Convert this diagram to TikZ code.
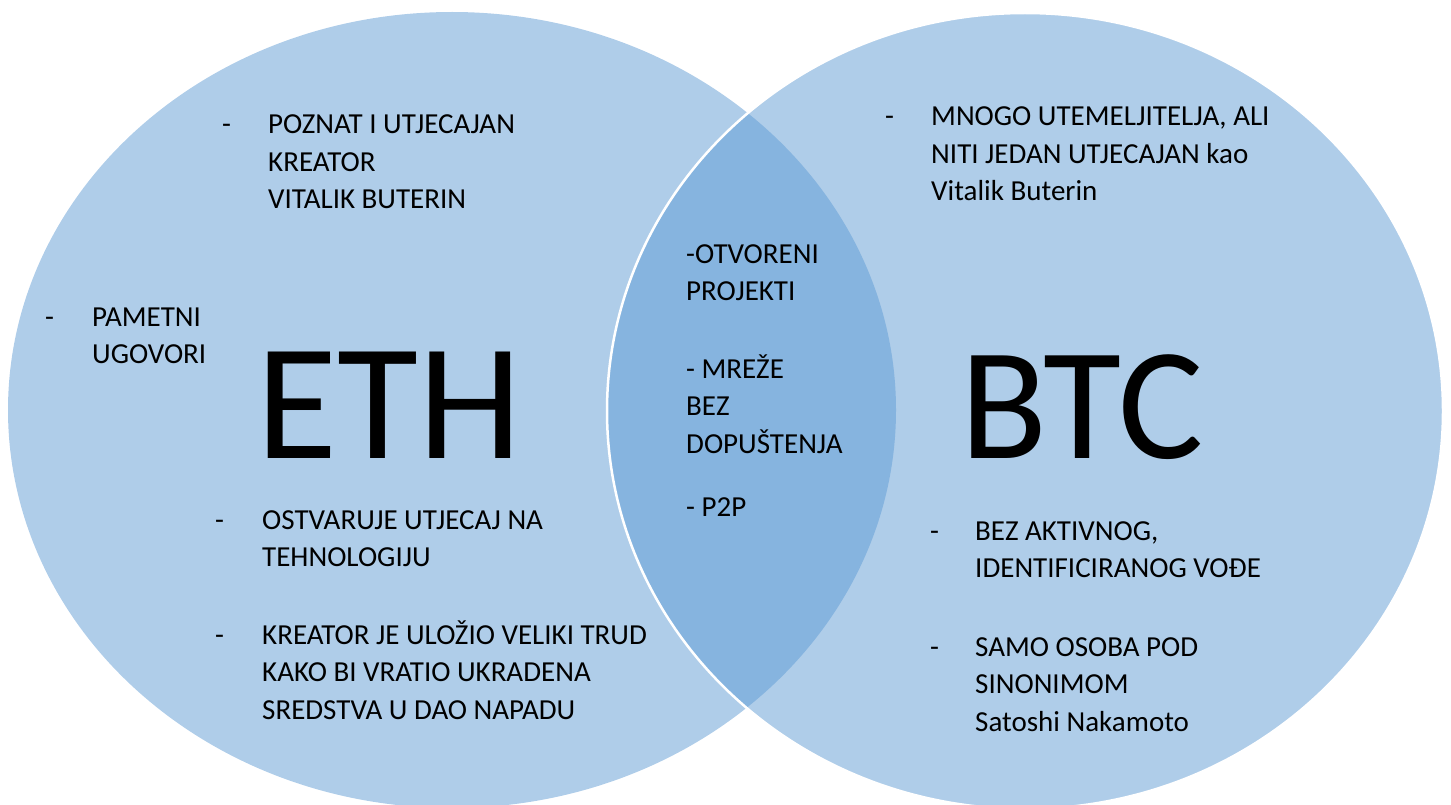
\documentclass[tikz,border=0pt]{standalone}
\usepackage{fontspec}
\setmainfont{Carlito}
\usepackage{tikz}
\definecolor{vennlight}{HTML}{AFCDE9}
\definecolor{venndark}{HTML}{86B4DF}
\tikzset{
  txt/.style={anchor=base west, inner sep=0pt, align=left,
    font=\fontsize{29}{37.5}\selectfont},
  big/.style={anchor=base west, inner sep=0pt,
    font=\fontsize{166}{166}\selectfont}
}

\begin{document}
\begin{tikzpicture}[x=1pt, y=-1pt]
        \clip (0,0) rectangle (1451,805);
        % circles
        \fill[vennlight] (452,410) ellipse [x radius=444pt, y radius=398pt];
        \fill[vennlight] (1025,411) ellipse [x radius=418pt, y radius=398pt];
        \begin{scope}
            \clip (452,410) ellipse [x radius=444pt, y radius=398pt];
            \fill[venndark] (1025,411) ellipse [x radius=418pt, y radius=398pt];
        \end{scope}
        \draw[white, line width=2.5pt] (1025,411) ellipse [x radius=418pt, y radius=398pt];

        \node[big] (eth) at (256,458) {ETH};
        \node[big, font=\fontsize{160}{160}\selectfont] (btc) at (960,458) {BTC};

        % ETH (base = last line)
        \node[txt] (d1) at (222,134) {-};
        \node[txt] (kreator) at (268,209) {POZNAT I UTJECAJAN\\KREATOR\\VITALIK BUTERIN};
        \node[txt] (d2) at (45,326) {-};
        \node[txt] (ugovori) at (92,363.5) {PAMETNI\\UGOVORI};
        \node[txt] (d3) at (215,529) {-};
        \node[txt] (tehno) at (262,566.5) {OSTVARUJE UTJECAJ NA\\TEHNOLOGIJU};
        \node[txt] (d4) at (215,644) {-};
        \node[txt] (dao) at (262,719) {KREATOR JE ULOŽIO VELIKI TRUD\\KAKO BI VRATIO UKRADENA\\SREDSTVA U DAO NAPADU};

        % both
        \node[txt] (otvoreni) at (686,300.5) {-OTVORENI\\PROJEKTI};
        \node[txt] (mreze) at (686,453) {- MREŽE\\BEZ\\DOPUŠTENJA};
        \node[txt] (ptp) at (686,516) {- P2P};

        % BTC
        \node[txt] (d5) at (885,126) {-};
        \node[txt] (osnivaci) at (931,201) {MNOGO UTEMELJITELJA, ALI\\NITI JEDAN UTJECAJAN kao\\Vitalik Buterin};
        \node[txt] (d6) at (930,540) {-};
        \node[txt] (vodja) at (975,577.5) {BEZ AKTIVNOG,\\IDENTIFICIRANOG VOĐE};
        \node[txt] (d7) at (930,656) {-};
        \node[txt] (satoshi) at (975,731) {SAMO OSOBA POD\\SINONIMOM\\Satoshi Nakamoto};
\end{tikzpicture}
\end{document}
